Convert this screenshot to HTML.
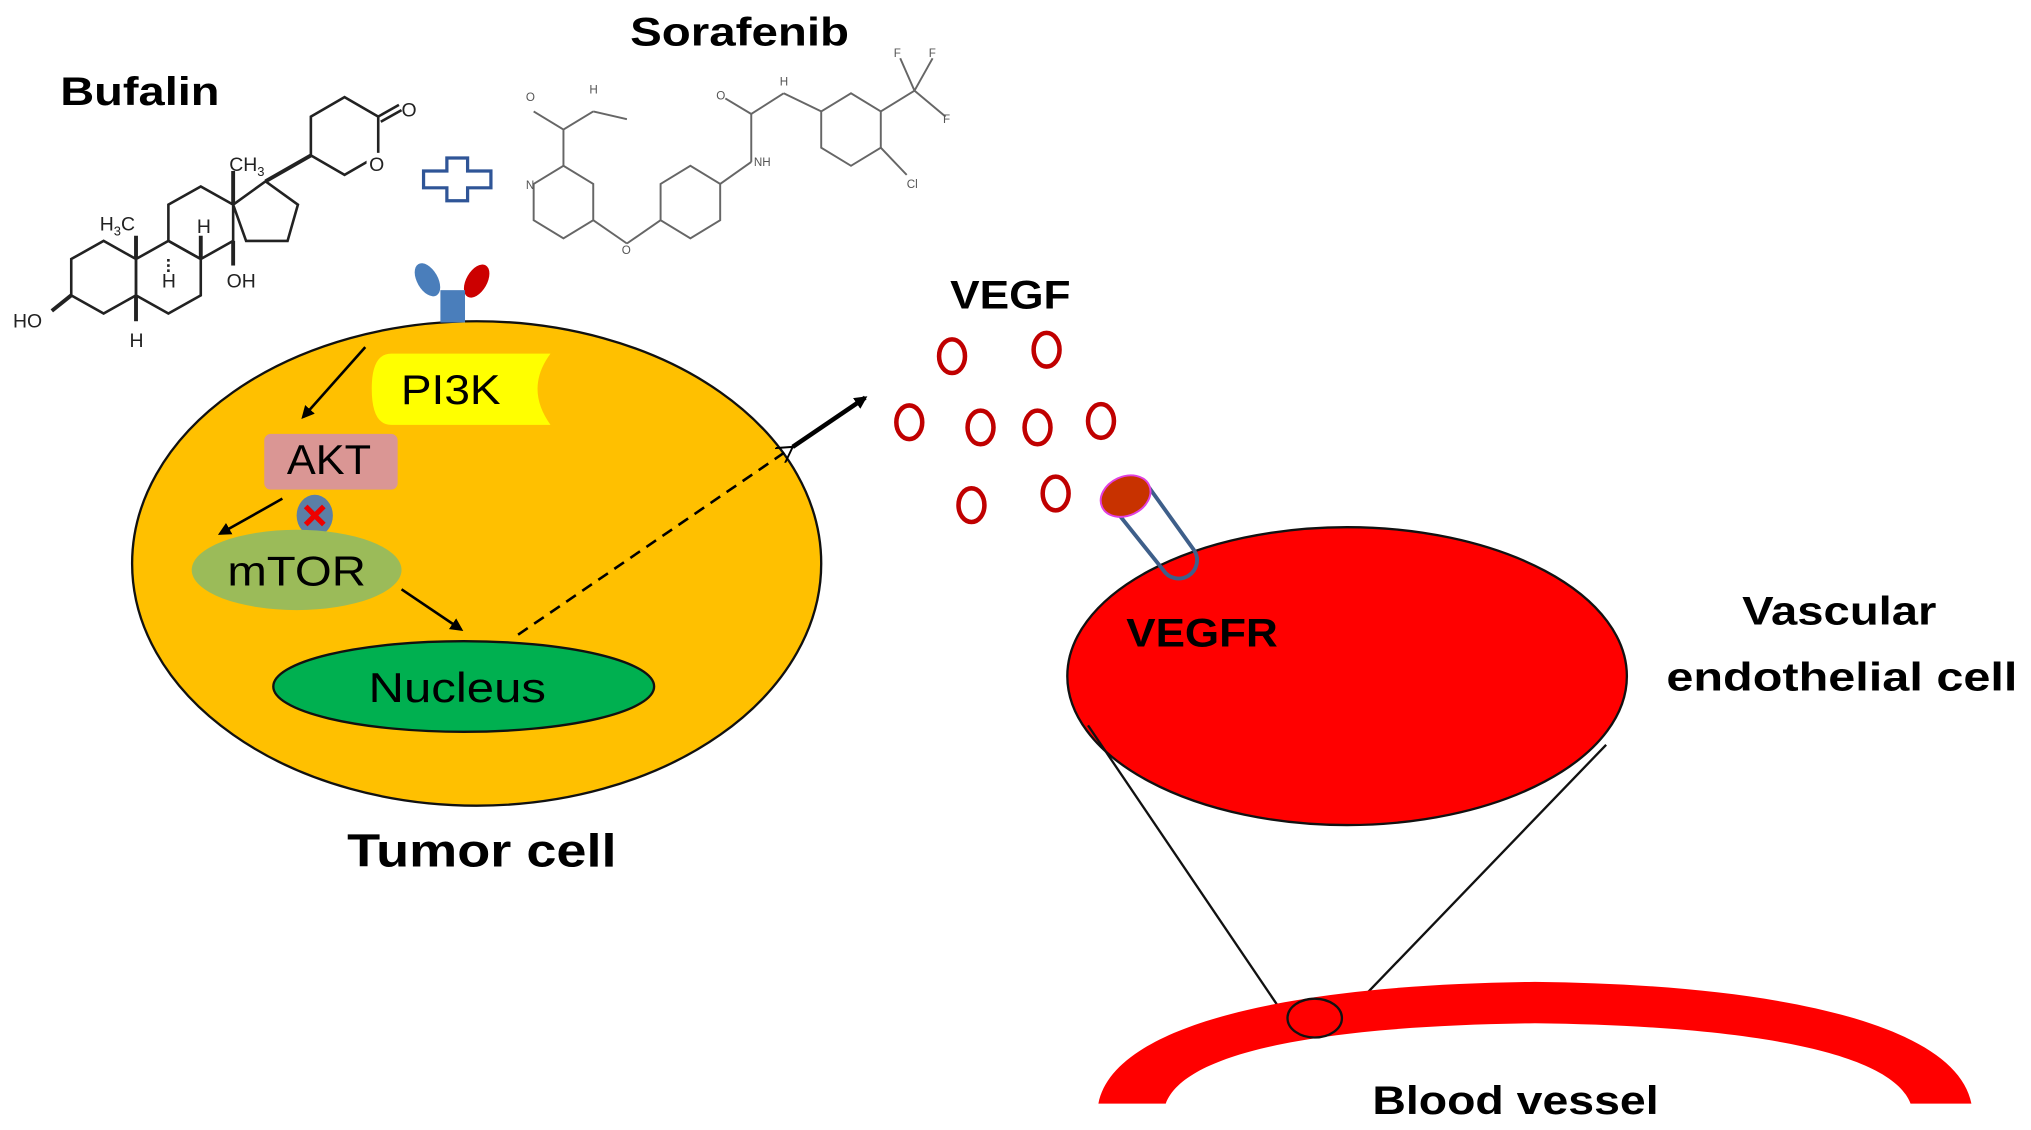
<!DOCTYPE html>
<html><head><meta charset="utf-8"><style>
html,body{margin:0;padding:0;background:#fff;}
svg{display:block;}
text{font-family:"Liberation Sans",sans-serif;}
.b{font-weight:bold;}
.c{font-family:"Liberation Sans",sans-serif;fill:#555;font-size:9px;}
</style></head><body>
<svg width="2031" height="1130" viewBox="0 0 1568 872.4" xmlns="http://www.w3.org/2000/svg">
<defs>
<marker id="ah" markerWidth="10" markerHeight="10" refX="8" refY="5" orient="auto" markerUnits="userSpaceOnUse"><path d="M0,0 L10,5 L0,10 z" fill="#000"/></marker>
<marker id="oh" markerWidth="14" markerHeight="14" refX="12" refY="7" orient="auto" markerUnits="userSpaceOnUse"><path d="M0,0 L12,7 L0,14" fill="none" stroke="#000" stroke-width="1.5"/></marker>
</defs>

<text x="108" y="81" class="b" font-size="31" text-anchor="middle" textLength="123" lengthAdjust="spacingAndGlyphs">Bufalin</text>
<text x="571" y="35" class="b" font-size="31" text-anchor="middle" textLength="169" lengthAdjust="spacingAndGlyphs">Sorafenib</text>

<g fill="none" stroke="#222" stroke-width="2">
<polygon points="55,200 80,186 105,200 105,228 80,242 55,228"/>
<polygon points="105,200 130,186 155,200 155,228 130,242 105,228"/>
<polygon points="130,158 155,144 180,158 180,186 155,200 130,186"/>
<polygon points="180,158 205,140 230,158 222,186 190,186"/>
<polygon points="240,90 266,75 292,90 292,120 266,135 240,120"/>
<line x1="205" y1="140" x2="240" y2="120" stroke-width="3"/>
<line x1="292" y1="90" x2="308" y2="81"/>
<line x1="294" y1="94" x2="310" y2="85"/>
<line x1="180" y1="158" x2="180" y2="132" stroke-width="3"/>
<line x1="105" y1="200" x2="105" y2="182" stroke-width="3"/>
<line x1="155" y1="200" x2="155" y2="182" stroke-width="3"/>
<line x1="180" y1="186" x2="180" y2="205" stroke-width="3"/>
<line x1="105" y1="228" x2="105" y2="248" stroke-width="3"/>
<line x1="55" y1="228" x2="40" y2="240" stroke-width="3"/>
<line x1="130" y1="200" x2="130" y2="212" stroke-dasharray="2,2"/>
</g>
<rect x="283" y="118" width="16" height="16" fill="#fff"/>
<g font-size="15" fill="#222">
<text x="10" y="253">HO</text>
<text x="100" y="268">H</text>
<text x="125" y="222">H</text>
<text x="152" y="180">H</text>
<text x="77" y="178">H<tspan font-size="10" dy="4">3</tspan><tspan dy="-4">C</tspan></text>
<text x="175" y="222">OH</text>
<text x="177" y="132">CH<tspan font-size="10" dy="4">3</tspan></text>
<text x="310" y="90">O</text>
<text x="285" y="132">O</text>
</g>

<path d="M345,122 h16 v10 h18 v13 h-18 v10 h-16 v-10 h-18 v-13 h18 z" fill="#fff" stroke="#2F5597" stroke-width="2.5"/>

<g fill="none" stroke="#666" stroke-width="1.5">
<polygon points="412,142 435,128 458,142 458,170 435,184 412,170"/>
<polygon points="510,142 533,128 556,142 556,170 533,184 510,170"/>
<polygon points="634,86 657,72 680,86 680,114 657,128 634,114"/>
<line x1="435" y1="128" x2="435" y2="100"/><line x1="435" y1="100" x2="412" y2="86"/><line x1="435" y1="100" x2="458" y2="86"/><line x1="458" y1="86" x2="484" y2="92"/>
<line x1="458" y1="170" x2="484" y2="188"/><line x1="484" y1="188" x2="510" y2="170"/>
<line x1="556" y1="142" x2="580" y2="125"/><line x1="580" y1="125" x2="580" y2="88"/><line x1="580" y1="88" x2="560" y2="76"/><line x1="580" y1="88" x2="605" y2="72"/><line x1="605" y1="72" x2="634" y2="86"/>
<line x1="680" y1="86" x2="706" y2="70"/><line x1="706" y1="70" x2="695" y2="45"/><line x1="706" y1="70" x2="720" y2="45"/><line x1="706" y1="70" x2="730" y2="90"/>
<line x1="680" y1="114" x2="700" y2="135"/>
</g>
<g class="c">
<text x="406" y="78" class="c">O</text><text x="455" y="72" class="c">H</text><text x="406" y="146" class="c">N</text>
<text x="480" y="196" class="c">O</text><text x="553" y="77" class="c">O</text><text x="602" y="66" class="c">H</text>
<text x="582" y="128" class="c">NH</text><text x="690" y="44" class="c">F</text><text x="717" y="44" class="c">F</text>
<text x="728" y="95" class="c">F</text><text x="700" y="145" class="c">Cl</text>
</g>

<ellipse cx="368" cy="435" rx="266" ry="187" fill="#FFC000" stroke="#111" stroke-width="1.8"/>
<ellipse cx="330" cy="216" rx="8" ry="14" transform="rotate(-30 330 216)" fill="#4A7EBB"/>
<ellipse cx="368" cy="217" rx="8" ry="14" transform="rotate(30 368 217)" fill="#CC0000"/>
<rect x="340" y="224" width="19" height="25" fill="#4A7EBB"/>

<path d="M302,273 H425 Q405,300 425,328 H302 Q287,328 287,300 Q287,273 302,273 z" fill="#FFFF00"/>
<text x="348" y="312" font-size="32" text-anchor="middle" textLength="77" lengthAdjust="spacingAndGlyphs">PI3K</text>
<rect x="204" y="335" width="103" height="43" rx="5" fill="#DA9694"/>
<text x="254" y="366" font-size="32" text-anchor="middle" textLength="65" lengthAdjust="spacingAndGlyphs">AKT</text>
<ellipse cx="243" cy="398" rx="14" ry="16" fill="#5B7FA6"/>
<g stroke="#E00" stroke-width="4"><line x1="236" y1="391" x2="250" y2="405"/><line x1="250" y1="391" x2="236" y2="405"/></g>
<ellipse cx="229" cy="440" rx="81" ry="31" fill="#9BBB59"/>
<text x="229" y="452" font-size="32" text-anchor="middle" textLength="107" lengthAdjust="spacingAndGlyphs">mTOR</text>
<ellipse cx="358" cy="530" rx="147" ry="35" fill="#00B050" stroke="#111" stroke-width="1.8"/>
<text x="353" y="542" font-size="32" text-anchor="middle" textLength="137" lengthAdjust="spacingAndGlyphs">Nucleus</text>

<g stroke="#000" stroke-width="2" fill="none">
<line x1="282" y1="268" x2="234" y2="322" marker-end="url(#ah)"/>
<line x1="218" y1="385" x2="170" y2="412" marker-end="url(#ah)"/>
<line x1="310" y1="455" x2="356" y2="486" marker-end="url(#ah)"/>
<line x1="400" y1="490" x2="612" y2="345" stroke-dasharray="9,6" marker-end="url(#oh)"/>
<line x1="612" y1="345" x2="668" y2="307" stroke-width="3.5" marker-end="url(#ah)"/>
</g>

<text x="372" y="669" class="b" font-size="36" text-anchor="middle" textLength="208" lengthAdjust="spacingAndGlyphs">Tumor cell</text>

<text x="780" y="238" class="b" font-size="31" text-anchor="middle" textLength="93" lengthAdjust="spacingAndGlyphs">VEGF</text>
<g fill="none" stroke="#C00000" stroke-width="3.5">
<ellipse cx="735" cy="275" rx="10" ry="13"/><ellipse cx="808" cy="270" rx="10" ry="13"/>
<ellipse cx="702" cy="326" rx="10" ry="13"/><ellipse cx="757" cy="330" rx="10" ry="13"/>
<ellipse cx="801" cy="330" rx="10" ry="13"/><ellipse cx="850" cy="325" rx="10" ry="13"/>
<ellipse cx="750" cy="390" rx="10" ry="13"/><ellipse cx="815" cy="381" rx="10" ry="13"/>
</g>

<ellipse cx="1040" cy="522" rx="216" ry="115" fill="#FF0000" stroke="#111" stroke-width="1.8"/>
<path d="M858,390 L898,440 A14,14 0 0 0 922,425 L884,372" fill="none" stroke="#3E5F8A" stroke-width="3"/>
<ellipse cx="869" cy="383" rx="20" ry="15" transform="rotate(-25 869 383)" fill="#C83200" stroke="#E040E0" stroke-width="1.5"/>
<text x="928" y="499" class="b" font-size="31" text-anchor="middle" textLength="117" lengthAdjust="spacingAndGlyphs">VEGFR</text>

<text x="1420" y="482" class="b" font-size="31" text-anchor="middle" textLength="150" lengthAdjust="spacingAndGlyphs">Vascular</text>
<text x="1422" y="533" class="b" font-size="31" text-anchor="middle" textLength="271" lengthAdjust="spacingAndGlyphs">endothelial cell</text>

<g stroke="#111" stroke-width="1.8" fill="none">
<line x1="840" y1="560" x2="997" y2="792"/>
<line x1="1240" y1="575" x2="1033" y2="790"/>
</g>

<path d="M848,852 C860,790 1000,760 1185,758 C1370,760 1510,790 1522,852 L1475,852 C1460,812 1350,792 1185,790 C1020,792 915,812 900,852 z" fill="#FF0000"/>
<ellipse cx="1015" cy="786" rx="21" ry="15" fill="none" stroke="#111" stroke-width="1.8"/>
<text x="1170" y="860" class="b" font-size="31" text-anchor="middle" textLength="221" lengthAdjust="spacingAndGlyphs">Blood vessel</text>
</svg>
</body></html>
